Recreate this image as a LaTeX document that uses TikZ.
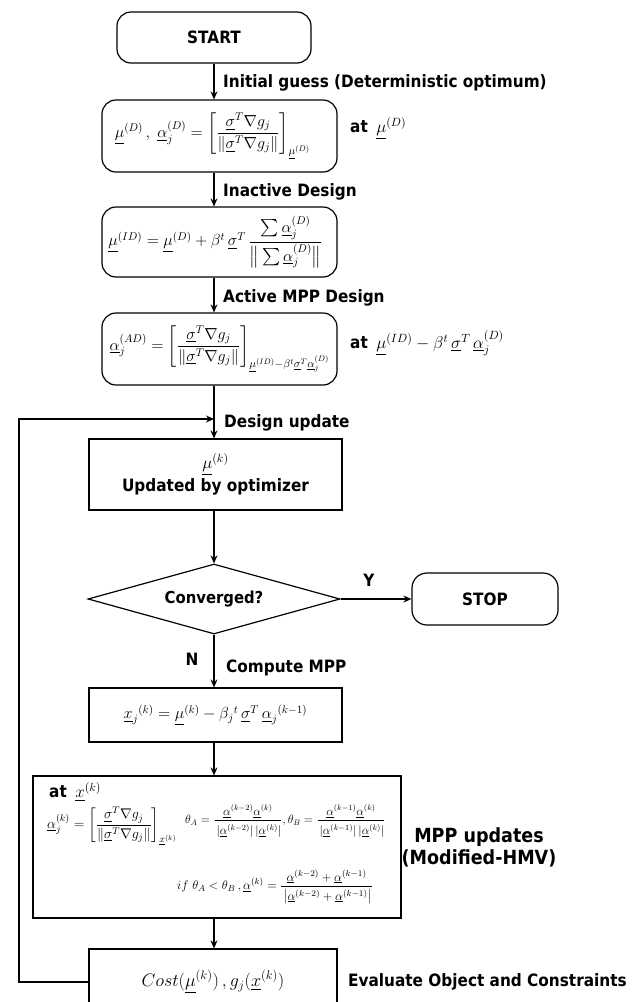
\RequirePackage{fix-cm}
\documentclass[tikz,border=0pt]{standalone}
\usepackage[no-math]{fontspec}
\setmainfont[FakeStretch=0.9]{DejaVu Sans}
\usepackage{amsmath}
\usetikzlibrary{shapes.geometric,arrows.meta}
\newcommand{\ul}[1]{\underline{#1}}
\begin{document}
\begin{tikzpicture}[x=1pt,y=-1pt,
  lbl/.style={font=\fontsize{17}{20}\selectfont\bfseries, anchor=west, inner sep=0pt},
  rbox/.style={draw, line width=1.2pt, rounded corners=14pt, inner sep=0pt},
  sbox/.style={draw, line width=1.2pt, inner sep=0pt},
  mth/.style={font=\fontsize{16}{19}\selectfont},
  arr/.style={-{Stealth[length=8pt,width=7pt]}, line width=1.1pt}]
\useasboundingbox (0,0) rectangle (644,1002);
\clip (0,0) rectangle (644,1002);

% nodes
\node[rbox, minimum width=194pt, minimum height=51pt, font=\fontsize{17}{20}\selectfont\bfseries] (start) at (214,37.5) {START};
\node[rbox, minimum width=235pt, minimum height=72pt, mth] (b2) at (219.5,136)
  {$\ul{\mu}^{(D)}\,,\ \ul{\alpha}_j^{(D)} = \left[\dfrac{\ul{\sigma}^T\nabla g_j}{\left\|\ul{\sigma}^T\nabla g_j\right\|}\right]_{\ul{\mu}^{(D)}}$\hspace*{14pt}};
\node[rbox, minimum width=235pt, minimum height=70pt, mth] (b3) at (219.5,242)
  {$\ul{\mu}^{(ID)} = \ul{\mu}^{(D)} + \beta^t\,\ul{\sigma}^T\,\dfrac{\sum\ul{\alpha}_j^{(D)}}{\rule{0pt}{17pt}\big\|\sum\ul{\alpha}_j^{(D)}\big\|}$\hspace*{8pt}};
\node[rbox, minimum width=235pt, minimum height=72pt, mth] (b4) at (219.5,349)
  {$\ul{\alpha}_j^{(AD)} = \left[\dfrac{\ul{\sigma}^T\nabla g_j}{\left\|\ul{\sigma}^T\nabla g_j\right\|}\right]_{\ul{\mu}^{(ID)}-\beta^t\ul{\sigma}^T\ul{\alpha}_j^{(D)}}$};
\node[sbox, minimum width=253pt, minimum height=71pt, align=center, font=\fontsize{17}{20}\selectfont\bfseries] (upd) at (215.5,474.5)
  {$\ul{\mu}^{(k)}$\\[3pt] Updated by optimizer};
\node[draw, diamond, line width=1.2pt, minimum width=252pt, minimum height=70pt, inner sep=0pt, aspect=3.6, font=\fontsize{16.5}{19}\selectfont\bfseries] (dia) at (214,599) {Converged?};
\node[rbox, rounded corners=15pt, minimum width=146pt, minimum height=52pt, font=\fontsize{17}{20}\selectfont\bfseries] (stop) at (485,599) {STOP};
\node[sbox, minimum width=253pt, minimum height=54pt, mth] (xj) at (215.5,715)
  {$\ul{x}_j{}^{(k)} = \ul{\mu}^{(k)} - \beta_j{}^t\,\ul{\sigma}^T\,\ul{\alpha}_j{}^{(k-1)}$};
\node[sbox, minimum width=368pt, minimum height=142pt] (big) at (217,847) {};
\node[anchor=west, inner sep=0pt, font=\fontsize{17}{20}\selectfont\bfseries] (bat) at (49,792) {at\enspace$\ul{x}^{(k)}$};
\node[anchor=west, inner sep=0pt, font=\fontsize{14}{17}\selectfont] (bal) at (47,826)
  {$\ul{\alpha}_j^{(k)} = \left[\dfrac{\ul{\sigma}^T\nabla g_j}{\left\|\ul{\sigma}^T\nabla g_j\right\|}\right]_{\ul{x}^{(k)}}$};
\node[anchor=west, inner sep=0pt, font=\fontsize{12}{14}\selectfont] (bth) at (185,821)
  {$\theta_A = \dfrac{\ul{\alpha}^{(k-2)}\ul{\alpha}^{(k)}}{\rule{0pt}{12pt}\left|\ul{\alpha}^{(k-2)}\right|\left|\ul{\alpha}^{(k)}\right|},\theta_B = \dfrac{\ul{\alpha}^{(k-1)}\ul{\alpha}^{(k)}}{\rule{0pt}{12pt}\left|\ul{\alpha}^{(k-1)}\right|\left|\ul{\alpha}^{(k)}\right|}$};
\node[anchor=west, inner sep=0pt, font=\fontsize{12.5}{14}\selectfont] (bif) at (177,887)
  {$if\ \theta_A < \theta_B\,,\ul{\alpha}^{(k)} = \dfrac{\ul{\alpha}^{(k-2)}+\ul{\alpha}^{(k-1)}}{\rule{0pt}{12pt}\left|\ul{\alpha}^{(k-2)}+\ul{\alpha}^{(k-1)}\right|}$};
\node[sbox, minimum width=248pt, minimum height=66pt, font=\fontsize{18}{21}\selectfont] (cost) at (213,982)
  {$Cost(\ul{\mu}^{(k)})\,, g_j(\ul{x}^{(k)})$};

% labels
\node[lbl] (l1) at (223,83) {Initial guess (Deterministic optimum)};
\node[lbl] (l2) at (223,192) {Inactive Design};
\node[lbl] (l3) at (223,298) {Active MPP Design};
\node[lbl] (l4) at (224,423) {Design update};
\node[lbl] (l5) at (226,668) {Compute MPP};
\node[lbl] (l6) at (348,982) {Evaluate Object and Constraints};
\node[lbl] (at2) at (350,128) {at\enspace$\ul{\mu}^{(D)}$};
\node[lbl] (at4) at (350,343) {at\enspace$\ul{\mu}^{(ID)}-\beta^t\,\ul{\sigma}^T\,\ul{\alpha}_j^{(D)}$};
\node[lbl, anchor=center] (ly) at (369,580) {Y};
\node[lbl, anchor=center] (ln) at (192,659) {N};
\node[lbl, anchor=center, align=center, font=\fontsize{19.5}{22}\selectfont\bfseries] (mpp) at (479,847) {MPP updates\\(Modified-HMV)};

% connectors
\coordinate (ax) at (214,0);
\coordinate (jn) at (214,419);
\coordinate (lc) at (19,419);
\draw[arr] (start.south) -- (start.south |- b2.north);
\draw[arr] (b2.south -| ax) -- (b3.north -| ax);
\draw[arr] (b3.south -| ax) -- (b4.north -| ax);
\draw[arr] (b4.south -| ax) -- (upd.north -| ax);
\draw[arr] (upd.south -| ax) -- (dia.north);
\draw[arr] (dia.east) -- (stop.west);
\draw[arr] (dia.south) -- (xj.north -| ax);
\draw[arr] (xj.south -| ax) -- (big.north -| ax);
\draw[arr] (big.south -| ax) -- (cost.north -| ax);
\draw[arr] (cost.west) -| (lc) -- (jn);
\end{tikzpicture}
\end{document}
